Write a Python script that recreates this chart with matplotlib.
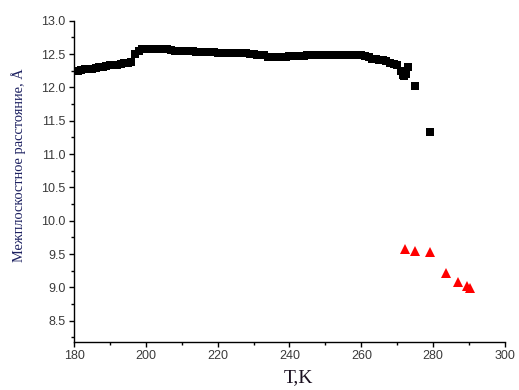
import matplotlib

matplotlib.use("Agg")

import matplotlib.pyplot as plt
from matplotlib.ticker import MultipleLocator

# interplanar spacing, black squares (low-temperature phase)
temp_low = [180, 181, 182, 183, 184, 185, 186, 187, 188, 189, 190, 191, 192,
            193, 194, 195, 196, 197, 198, 199, 200, 201, 202, 203, 204, 205,
            206, 207, 208, 209, 210, 211, 212, 213, 214, 215, 216, 217, 218,
            219, 220, 221, 222, 223, 224, 225, 226, 227, 228, 229, 230, 231,
            232, 233, 234, 235, 236, 237, 238, 239, 240, 241, 242, 243, 244,
            245, 246, 247, 248, 249, 250, 251, 252, 253, 254, 255, 256, 257,
            258, 259, 260, 261, 262, 263, 264, 265, 266, 267, 268, 269, 270,
            271, 271.5, 272, 272.5, 273, 275, 279]
d_low = [12.24, 12.25, 12.26, 12.27, 12.27, 12.28, 12.29, 12.30, 12.31, 12.32,
         12.33, 12.33, 12.34, 12.35, 12.36, 12.37, 12.38, 12.50, 12.55, 12.57,
         12.57, 12.57, 12.57, 12.57, 12.57, 12.57, 12.57, 12.56, 12.55, 12.55,
         12.54, 12.54, 12.54, 12.54, 12.53, 12.53, 12.53, 12.53, 12.53, 12.53,
         12.52, 12.51, 12.51, 12.51, 12.51, 12.51, 12.51, 12.51, 12.51, 12.50,
         12.50, 12.48, 12.48, 12.48, 12.46, 12.46, 12.46, 12.46, 12.46, 12.46,
         12.47, 12.47, 12.47, 12.47, 12.47, 12.48, 12.48, 12.48, 12.48, 12.48,
         12.49, 12.49, 12.49, 12.49, 12.49, 12.48, 12.48, 12.48, 12.48, 12.48,
         12.48, 12.47, 12.45, 12.43, 12.42, 12.41, 12.41, 12.39, 12.37, 12.35,
         12.33, 12.25, 12.18, 12.17, 12.20, 12.31, 12.02, 11.33]

# red triangles (high-temperature phase)
temp_high = [272.2, 275.0, 279.2, 283.7, 287.0, 289.5, 290.2]
d_high = [9.57, 9.55, 9.53, 9.21, 9.08, 9.02, 8.99]

TICK_TEXT = "#3a3a3a"

fig = plt.figure(figsize=(5.19, 3.90), dpi=100)
ax = fig.add_axes([0.1426, 0.123, 0.8304, 0.824])

ax.plot(temp_low, d_low, ls="none", marker="s", ms=5.6, color="black", mew=0)
ax.plot(temp_high, d_high, ls="none", marker="^", ms=6.5, color="#ff0000", mew=0)

ax.set_xlim(180, 300)
ax.set_ylim(8.18, 13.0)
ax.xaxis.set_major_locator(MultipleLocator(20))
ax.xaxis.set_minor_locator(MultipleLocator(10))
ax.yaxis.set_major_locator(MultipleLocator(0.5))
ax.yaxis.set_minor_locator(MultipleLocator(0.25))
ax.yaxis.set_major_formatter(plt.FormatStrFormatter("%.1f"))

for side in ("top", "right"):
    ax.spines[side].set_visible(False)
for side in ("left", "bottom"):
    ax.spines[side].set_linewidth(1.0)

ax.tick_params(which="major", direction="out", length=3.5, width=1.0,
               labelsize=9, labelcolor=TICK_TEXT, pad=2.5)
ax.tick_params(which="minor", direction="out", length=2.2, width=1.0)
for lab in ax.get_xticklabels() + ax.get_yticklabels():
    lab.set_family("Liberation Sans")

ax.set_xlabel("T,K", family="Liberation Serif", fontsize=14, color="#1a1020")
ax.xaxis.set_label_coords(0.52, -0.085)
ax.set_ylabel("Межплоскостное расстояние, Å", family="Liberation Serif",
              fontsize=10.4, color="#1c2060")
ax.yaxis.set_label_coords(-0.112, 0.55)

fig.savefig("out.png", dpi=100, facecolor="white")
